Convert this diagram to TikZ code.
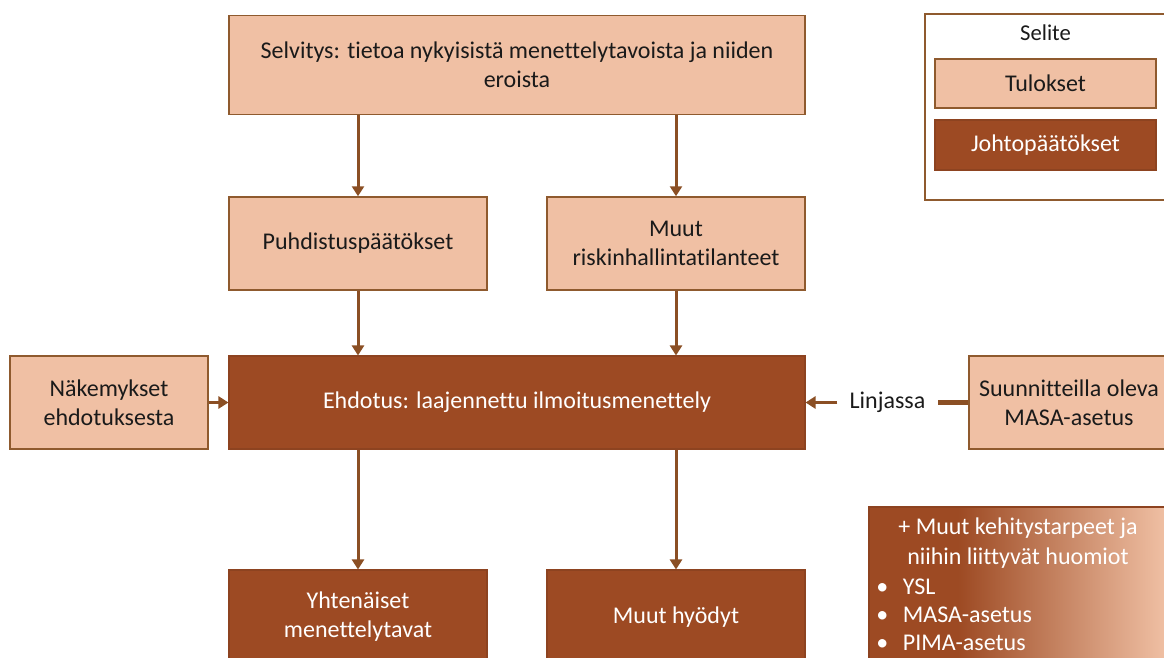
\documentclass[tikz,border=0pt]{standalone}
\usepackage{fontspec}
\setmainfont{Carlito}[Ligatures=NoCommon]
\usetikzlibrary{arrows.meta}
\definecolor{peach}{HTML}{F0C0A4}
\definecolor{darkbr}{HTML}{9D4A23}
\definecolor{edge}{HTML}{8F5A2E}
\definecolor{arr}{HTML}{8B4F24}
\definecolor{txt}{HTML}{1A1A1A}
\pgfdeclarehorizontalshading{gradbox}{100bp}{color(0bp)=(darkbr); color(40bp)=(darkbr); color(75bp)=(peach); color(100bp)=(peach)}
\tikzset{
  lightbox/.style={draw=edge, line width=1.1pt, fill=peach, text=txt, align=center, font=\fontsize{18pt}{21.75pt}\selectfont, inner sep=0pt},
  darkbox/.style={draw=darkbr!90!black, line width=0.8pt, fill=darkbr, text=white, align=center, font=\fontsize{18pt}{21.75pt}\selectfont, inner sep=0pt},
  conn/.style={draw=arr, line width=2.25pt, -{Triangle[length=7.5pt,width=9pt]}},
}
\begin{document}
\begin{tikzpicture}[x=0.75pt,y=-0.75pt]
\useasboundingbox (0,0) rectangle (1164,657);
\clip (0,0) rectangle (1164,657);
% main boxes
\node[lightbox, minimum width=576*0.75pt, minimum height=99*0.75pt] (sel) at (517,65) {Selvitys: tietoa nykyisistä menettelytavoista ja niiden\\eroista};
\node[lightbox, minimum width=258*0.75pt, minimum height=93*0.75pt] (puh) at (358,243.5) {Puhdistuspäätökset};
\node[lightbox, minimum width=258*0.75pt, minimum height=93*0.75pt] (muu) at (676,243.5) {Muut\\riskinhallintatilanteet};
\node[darkbox, minimum width=576*0.75pt, minimum height=93*0.75pt] (ehd) at (517,402.5) {Ehdotus: laajennettu ilmoitusmenettely};
\node[lightbox, minimum width=198*0.75pt, minimum height=93*0.75pt] (nak) at (109,402.5) {Näkemykset\\ehdotuksesta};
\node[lightbox, minimum width=200*0.75pt, minimum height=93*0.75pt] (suu) at (1069,402.5) {Suunnitteilla oleva\\MASA-asetus};
\node[darkbox, minimum width=258*0.75pt, minimum height=94*0.75pt] (yht) at (358,617) {Yhtenäiset\\menettelytavat};
\node[darkbox, minimum width=258*0.75pt, minimum height=94*0.75pt] (hyo) at (676,617) {Muut hyödyt};
\node[text=txt, font=\fontsize{18pt}{21pt}\selectfont, inner xsep=9pt, inner ysep=0pt] (lin) at (887.5,402.5) {Linjassa};
% connectors
\draw[conn] (sel.south -| puh.north) -- (puh.north);
\draw[conn] (sel.south -| muu.north) -- (muu.north);
\draw[conn] (puh.south) -- (puh.south |- ehd.north);
\draw[conn] (muu.south) -- (muu.south |- ehd.north);
\draw[conn] (ehd.south -| yht.north) -- (yht.north);
\draw[conn] (ehd.south -| hyo.north) -- (hyo.north);
\draw[conn] (nak.east) -- (ehd.west);
\draw[conn] (lin.west) -- (lin.west -| ehd.east);
\draw[draw=arr, line width=3.2pt] (suu.west) -- (suu.west -| lin.east);
% legend
\node[draw=edge, line width=1.1pt, fill=white, minimum width=245*0.75pt, minimum height=186*0.75pt, inner sep=0pt] (leg) at (1047.5,107) {};
\node[text=txt, font=\fontsize{17pt}{20pt}\selectfont, inner sep=0pt] (legt) at (1045.5,33) {Selite};
\node[lightbox, minimum width=221*0.75pt, minimum height=49*0.75pt] (tul) at (1045.5,83.5) {Tulokset};
\node[darkbox, minimum width=221*0.75pt, minimum height=50*0.75pt] (joh) at (1045.5,145) {Johtopäätökset};
% gradient box
\node[draw=darkbr!90!black, line width=0.8pt, shading=gradbox, minimum width=297*0.75pt, minimum height=153*0.75pt, inner sep=0pt] (grad) at (1017.5,583.5) {};
\node[text=white, align=center, font=\fontsize{18pt}{22.5pt}\selectfont, inner sep=0pt] (gt) at (1018,543) {+ Muut kehitystarpeet ja\\niihin liittyvät huomiot};
\node[text=white, anchor=west, font=\fontsize{18pt}{21pt}\selectfont, inner sep=0pt] (b1) at (876,587) {•\hspace{11pt}YSL};
\node[text=white, anchor=west, font=\fontsize{18pt}{21pt}\selectfont, inner sep=0pt] (b2) at (876,615) {•\hspace{11pt}MASA-asetus};
\node[text=white, anchor=west, font=\fontsize{18pt}{21pt}\selectfont, inner sep=0pt] (b3) at (876,643) {•\hspace{11pt}PIMA-asetus};
\end{tikzpicture}
\end{document}
